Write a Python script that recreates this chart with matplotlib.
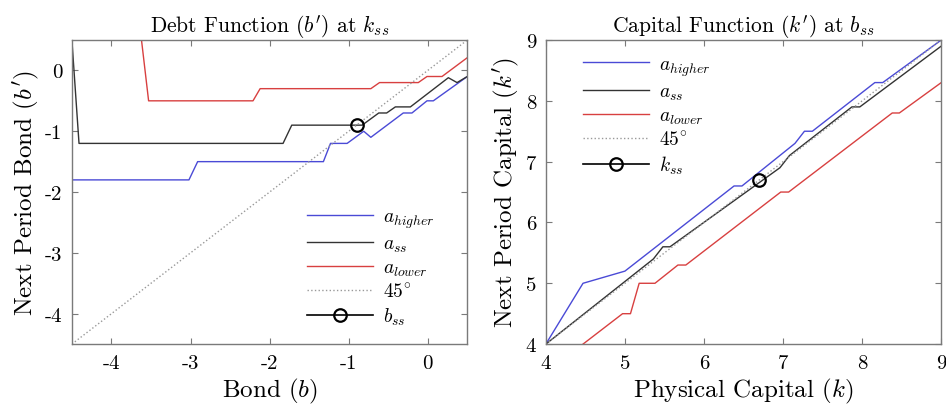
import matplotlib
matplotlib.use('Agg')
import matplotlib.pyplot as plt
import numpy as np

# ---- data ----
# debt policy b'(b) at k_ss
b_high_x = [-4.5, -3.02, -2.91, -1.32, -1.23, -1.02, -0.81, -0.72, -0.31, -0.2, -0.01, 0.07, 0.5]
b_high_y = [-1.8, -1.8, -1.5, -1.5, -1.2, -1.2, -1.0, -1.1, -0.7, -0.7, -0.5, -0.5, -0.1]
b_ss_x = [-4.5, -4.41, -1.83, -1.72, -0.83, -0.62, -0.52, -0.41, -0.22, 0.26, 0.37, 0.5]
b_ss_y = [0.5, -1.2, -1.2, -0.9, -0.9, -0.7, -0.7, -0.6, -0.6, -0.12, -0.2, -0.1]
b_low_x = [-4.5, -3.62, -3.53, -2.21, -2.12, -0.72, -0.61, -0.12, -0.01, 0.18, 0.5]
b_low_y = [0.5, 0.5, -0.5, -0.5, -0.3, -0.3, -0.2, -0.2, -0.1, -0.1, 0.21]
b_grid = [-4.5, 0.5]
b_star = -0.9

# capital policy k'(k) at b_ss
k_high_x = [4.0, 4.47, 5.0, 6.38, 6.48, 7.15, 7.27, 7.37, 8.16, 8.26, 9.0]
k_high_y = [4.0, 5.0, 5.2, 6.6, 6.6, 7.3, 7.5, 7.5, 8.3, 8.3, 9.0]
k_ss_x = [4.0, 5.36, 5.48, 5.57, 6.96, 7.08, 7.87, 7.97, 9.0]
k_ss_y = [4.0, 5.4, 5.6, 5.6, 6.9, 7.1, 7.9, 7.9, 8.9]
k_low_x = [4.47, 4.97, 5.07, 5.18, 5.38, 5.67, 5.77, 6.97, 7.07, 8.38, 8.47, 9.0]
k_low_y = [4.0, 4.5, 4.5, 5.0, 5.0, 5.3, 5.3, 6.5, 6.5, 7.8, 7.8, 8.3]
k_grid = [4.0, 9.0]
k_star = 6.7

plt.rcParams['font.family'] = 'cmr10'
plt.rcParams['mathtext.fontset'] = 'cm'
plt.rcParams['axes.unicode_minus'] = False
plt.rcParams['axes.formatter.use_mathtext'] = False

blue = '#4a4ad6'
black = '#333333'
red = '#d84040'
frame = '#7a7a7a'

fig = plt.figure(figsize=(9.46, 4.06), dpi=100)
ax1 = fig.add_axes([0.076, 0.150, 0.418, 0.749])
ax2 = fig.add_axes([0.577, 0.150, 0.418, 0.749])


def style(ax):
    for s in ax.spines.values():
        s.set_color(frame)
        s.set_linewidth(1.0)
    ax.tick_params(direction='in', top=True, right=True, length=4,
                   color=frame, labelsize=15, pad=7)


# 债务函数
ax1.plot(b_high_x, b_high_y, color=blue, lw=1.0, label='$a_{higher}$')
ax1.plot(b_ss_x, b_ss_y, color=black, lw=1.0, label='$a_{ss}$')
ax1.plot(b_low_x, b_low_y, color=red, lw=1.0, label='$a_{lower}$')
ax1.plot(b_grid, b_grid, color='#999999', lw=1.0, ls=':', label='$45^{\\circ}$')
ax1.plot([b_star], [b_star], color='black', ls='-', lw=1.2, marker='o', ms=9,
         mfc='none', mew=1.6, label='$b_{ss}$')
ax1.set_xlim(-4.5, 0.5)
ax1.set_ylim(-4.5, 0.5)
ax1.set_xticks([-4, -3, -2, -1, 0])
ax1.set_yticks([-4, -3, -2, -1, 0])
ax1.set_title("Debt Function $(b')$ at $k_{ss}$", fontsize=15.5, pad=6)
ax1.set_xlabel('Bond $(b)$', fontsize=18, labelpad=3)
ax1.set_ylabel("Next Period Bond $(b')$", fontsize=18, labelpad=3)
style(ax1)
ax1.legend(loc='center left', bbox_to_anchor=(0.595, 0.252), frameon=False,
           fontsize=14, handlelength=3.4, handletextpad=0.5, labelspacing=0.25,
           borderpad=0, borderaxespad=0, numpoints=1)

# 资本函数
ax2.plot(k_high_x, k_high_y, color=blue, lw=1.0, label='$a_{higher}$')
ax2.plot(k_ss_x, k_ss_y, color=black, lw=1.0, label='$a_{ss}$')
ax2.plot(k_low_x, k_low_y, color=red, lw=1.0, label='$a_{lower}$')
ax2.plot(k_grid, k_grid, color='#999999', lw=1.0, ls=':', label='$45^{\\circ}$')
ax2.plot([k_star], [k_star], color='black', ls='-', lw=1.2, marker='o', ms=9,
         mfc='none', mew=1.6, label='$k_{ss}$')
ax2.set_xlim(4, 9)
ax2.set_ylim(4, 9)
ax2.set_xticks([4, 5, 6, 7, 8, 9])
ax2.set_yticks([4, 5, 6, 7, 8, 9])
ax2.set_title("Capital Function $(k')$ at $b_{ss}$", fontsize=15.5, pad=6)
ax2.set_xlabel('Physical Capital $(k)$', fontsize=18, labelpad=3)
ax2.set_ylabel("Next Period Capital $(k')$", fontsize=18, labelpad=3)
style(ax2)
ax2.legend(loc='center left', bbox_to_anchor=(0.094, 0.751), frameon=False,
           fontsize=14, handlelength=3.4, handletextpad=0.5, labelspacing=0.25,
           borderpad=0, borderaxespad=0, numpoints=1)

fig.savefig('out.png', dpi=100)
